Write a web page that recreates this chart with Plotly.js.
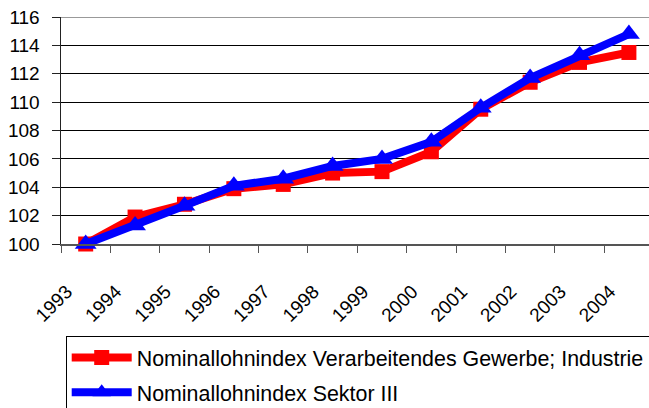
<!DOCTYPE html>
<html>
<head>
<meta charset="utf-8">
<script src="https://cdn.plot.ly/plotly-3.0.1.min.js"></script>
<style>html,body{margin:0;padding:0;background:#fff;}#chart{width:649px;height:408px;}</style>
</head>
<body>
<div id="chart"></div>
<script>
const years = ['1993','1994','1995','1996','1997','1998','1999','2000','2001','2002','2003','2004'];
const industrie = [100, 101.9, 102.8, 103.9, 104.2, 105.0, 105.1, 106.5, 109.5, 111.4, 112.8, 113.5];
const sektor3 = [100, 101.3, 102.7, 104.1, 104.6, 105.5, 106.0, 107.2, 109.6, 111.7, 113.3, 114.8];
const seriesNames = ['Nominallohnindex Verarbeitendes Gewerbe; Industrie', 'Nominallohnindex Sektor III'];

const traces = [
  {x: years, y: industrie, name: seriesNames[0], type: 'scatter', mode: 'lines+markers',
   line: {color: '#ff0000', width: 8}, marker: {symbol: 'square', size: 15, color: '#ff0000'},
   cliponaxis: false, legendgroup: 'a'},
  {x: years, y: sektor3, name: seriesNames[1], type: 'scatter', mode: 'lines+markers',
   line: {color: '#0000ff', width: 8}, marker: {symbol: 'triangle-up', size: 19, color: '#0000ff'},
   cliponaxis: false, legendgroup: 'b'}
];

const layout = {
  width: 649, height: 408,
  margin: {l: 61, r: 0, t: 17, b: 164, autoexpand: false},
  paper_bgcolor: '#fff', plot_bgcolor: '#fff',
  font: {family: 'Liberation Sans, Arial, sans-serif', size: 19, color: '#000'},
  showlegend: true,
  legend: {x: 0.008, xanchor: 'left', y: -0.4053, yanchor: 'top', orientation: 'v',
    bordercolor: '#000', borderwidth: 1, bgcolor: '#fff', traceorder: 'grouped', tracegroupgap: 4,
    font: {size: 21.4}, itemwidth: 60},
  xaxis: {type: 'category', range: [-0.5, 11.407], tickson: 'boundaries', ticks: 'outside', ticklen: 7,
    tickcolor: '#555', tickangle: -45, showgrid: false, showline: true, linecolor: '#555', linewidth: 2,
    ticklabelstandoff: 27, ticklabelshift: -19, fixedrange: true, automargin: false},
  yaxis: {range: [100, 116], dtick: 2, tick0: 100, ticks: 'outside', ticklen: 8, tickcolor: '#222',
    showline: true, linecolor: '#222', linewidth: 1.5, showgrid: true, gridcolor: '#000', gridwidth: 1,
    zeroline: false, ticklabelstandoff: 8, fixedrange: true, automargin: false},
  shapes: [{type: 'line', xref: 'paper', yref: 'y', x0: 0, x1: 1, y0: 116, y1: 116, line: {color: '#999', width: 2}}]
};

Plotly.newPlot('chart', traces, layout, {displayModeBar: false, staticPlot: true});
</script>
</body>
</html>
